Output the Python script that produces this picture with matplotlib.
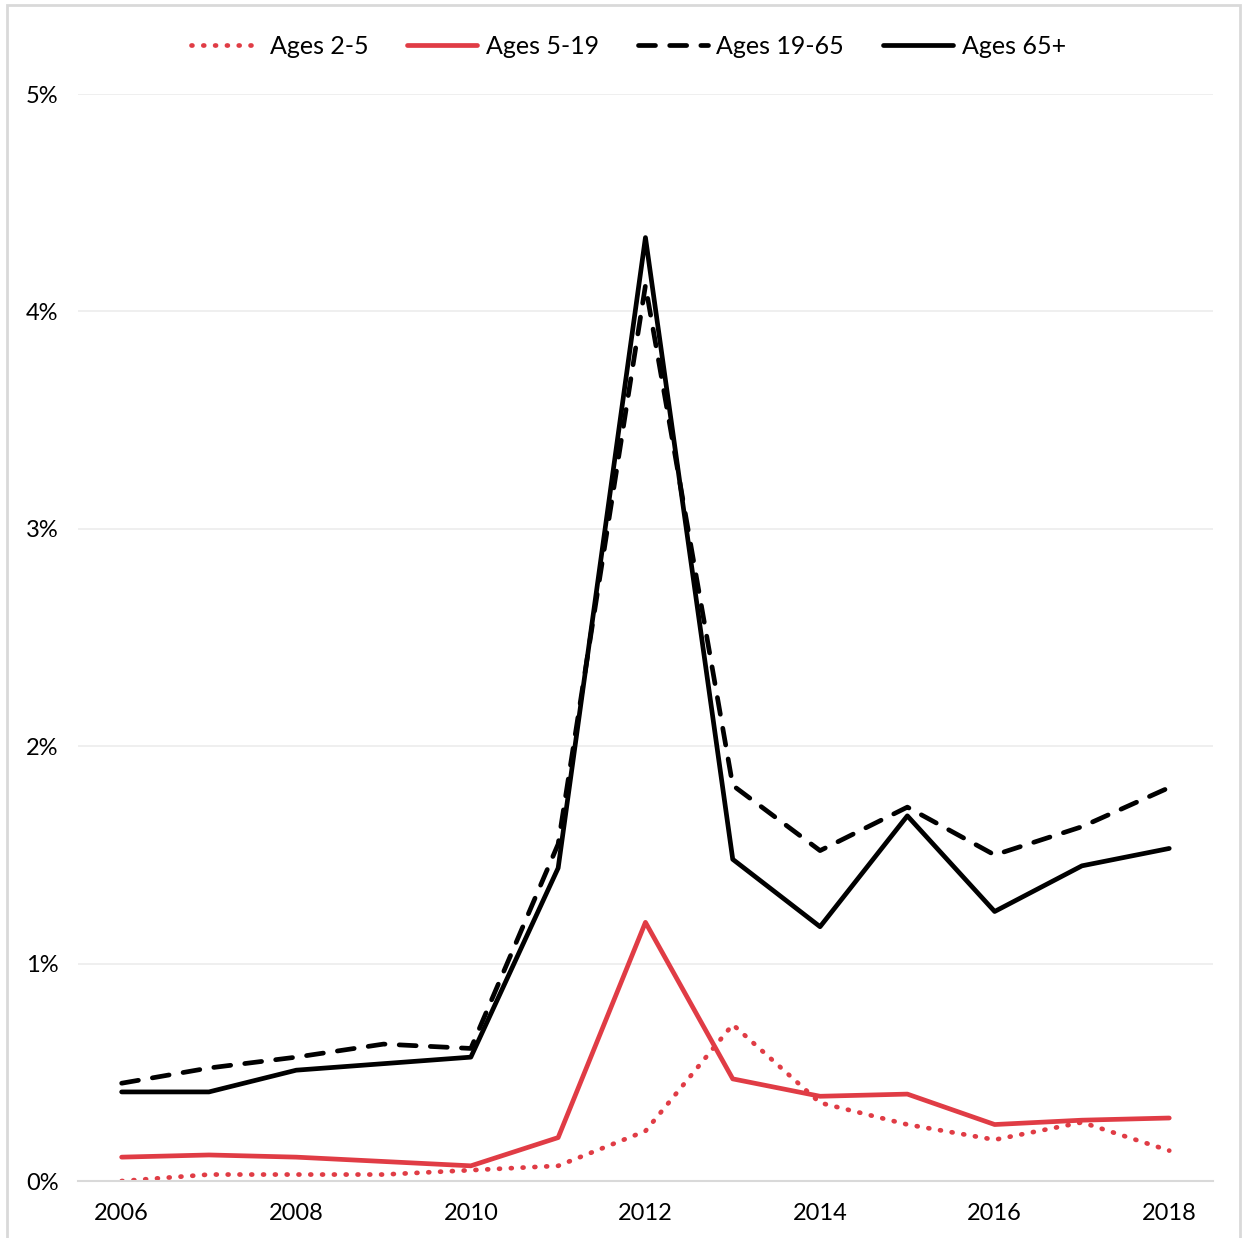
import matplotlib
matplotlib.use("Agg")
import matplotlib.pyplot as plt
from matplotlib.patches import Rectangle
from matplotlib.ticker import FuncFormatter

plt.rcParams['font.family'] = ['Lato', 'DejaVu Sans']

years = list(range(2006, 2019))
ages_2_5 = [0.00, 0.03, 0.03, 0.03, 0.05, 0.07, 0.23, 0.72, 0.36, 0.26, 0.19, 0.27, 0.14]
ages_5_19 = [0.11, 0.12, 0.11, 0.09, 0.07, 0.20, 1.19, 0.47, 0.39, 0.40, 0.26, 0.28, 0.29]
ages_19_65 = [0.45, 0.52, 0.57, 0.63, 0.61, 1.55, 4.12, 1.82, 1.52, 1.72, 1.50, 1.63, 1.81]
ages_65 = [0.41, 0.41, 0.51, 0.54, 0.57, 1.44, 4.34, 1.48, 1.17, 1.68, 1.24, 1.45, 1.53]

red = '#E03C45'
lw = 3.4

fig = plt.figure(figsize=(12.44, 12.38), dpi=100)
ax = fig.add_axes([0.0627, 0.046, 0.9123, 0.878])

ax.plot(years, ages_2_5, color=red, linewidth=lw, linestyle=(0, (0.2, 2.3)),
        dash_capstyle='round', label='Ages 2-5')
ax.plot(years, ages_5_19, color=red, linewidth=lw, solid_capstyle='round', label='Ages 5-19')
ax.plot(years, ages_19_65, color='black', linewidth=lw, linestyle=(0, (3.6, 3.0)),
        dash_capstyle='round', label='Ages 19-65')
ax.plot(years, ages_65, color='black', linewidth=lw, solid_capstyle='round', label='Ages 65+')

ax.set_xlim(2005.5, 2018.5)
ax.set_ylim(0, 5)
ax.set_xticks(range(2006, 2019, 2))
ax.set_yticks(range(0, 6))
ax.yaxis.set_major_formatter(FuncFormatter(lambda v, p: '%d%%' % v))
ax.grid(axis='y', color='#ececec', linewidth=1.2)
ax.set_axisbelow(True)
for s in ['top', 'right', 'left']:
    ax.spines[s].set_visible(False)
ax.spines['bottom'].set_color('#d9d9d9')
ax.spines['bottom'].set_linewidth(1.5)
ax.tick_params(axis='both', length=0, labelsize=17, colors='black')
ax.tick_params(axis='x', pad=16)
ax.tick_params(axis='y', pad=14)

leg = fig.legend(loc='upper center', bbox_to_anchor=(0.505, 0.99), ncol=4, frameon=False,
                 fontsize=18, handlelength=2.8, columnspacing=1.55, handletextpad=0.35)

fig.patches.append(Rectangle((0.006, -0.01), 0.991, 1.006, transform=fig.transFigure,
                             fill=False, edgecolor='#d9d9d9', linewidth=2))

fig.savefig('out.png', dpi=100)
